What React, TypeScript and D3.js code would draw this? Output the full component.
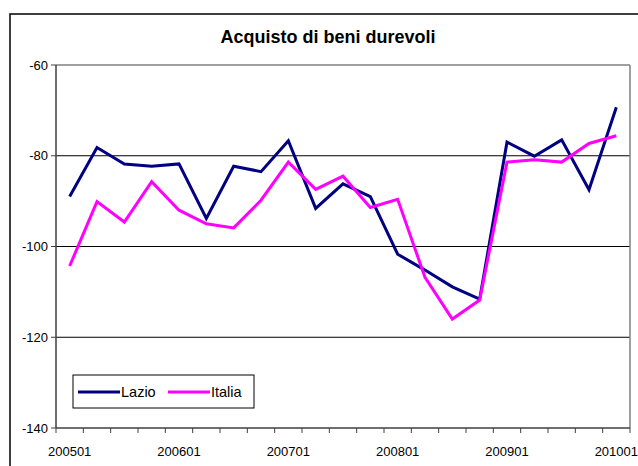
import React from "react";
import * as d3 from "d3";

const categories = [
  "200501","200502","200503","200504",
  "200601","200602","200603","200604",
  "200701","200702","200703","200704",
  "200801","200802","200803","200804",
  "200901","200902","200903","200904",
  "201001",
];
const lazio = [-89.0,-78.2,-81.8,-82.3,-81.8,-93.8,-82.3,-83.5,-76.7,-91.6,-86.2,-89.0,-101.7,-105.2,-108.9,-111.6,-77.0,-80.1,-76.5,-87.5,-69.3];
const italia = [-104.3,-90.1,-94.6,-85.7,-92.0,-95.0,-95.9,-89.8,-81.4,-87.4,-84.5,-91.4,-89.6,-106.8,-116.0,-111.8,-81.4,-80.9,-81.4,-77.3,-75.6];
const yTicks = [-140,-120,-100,-80,-60];
const xLabelEvery = 4;
const seriesNames = ["Lazio", "Italia"];
const seriesColors = ["#000080", "#FF00FF"];

const W = 638, H = 466;
const plot = { left: 56, right: 630, top: 65, bottom: 428 };
const font = "Liberation Sans, Arial, sans-serif";

export default function App() {
  const x = d3.scaleBand<string>().domain(categories).range([plot.left, plot.right]).padding(0);
  const y = d3.scaleLinear().domain([-140, -60]).range([plot.bottom, plot.top]);
  const cx = (c: string) => (x(c) as number) + x.bandwidth() / 2;
  const line = d3.line<number>().x((_, i) => cx(categories[i])).y((d) => y(d));
  const series = [lazio, italia];

  const boundaries = d3.range(categories.length + 1).map((i) => plot.left + i * x.bandwidth());

  return (
    <svg width={W} height={H} style={{ position: "absolute", left: 0, top: 0, background: "#fff" }}>
      <rect x={0} y={0} width={W} height={H} fill="#fff" />
      <rect x={10} y={14} width={W + 20} height={H + 20} fill="none" stroke="#000" strokeWidth={1.5} />
      <text x={328} y={43} textAnchor="middle" fontFamily={font} fontWeight="bold" fontSize={18}>
        Acquisto di beni durevoli
      </text>
      {yTicks.filter((t) => t !== -140 && t !== -60).map((t) => (
        <line key={t} x1={plot.left} x2={plot.right} y1={y(t)} y2={y(t)} stroke="#000" strokeWidth={1} />
      ))}
      <line x1={plot.left} x2={plot.right} y1={plot.top} y2={plot.top} stroke="#808080" strokeWidth={1.5} />
      <line x1={plot.right} x2={plot.right} y1={plot.top} y2={plot.bottom} stroke="#808080" strokeWidth={1.5} />
      <line x1={plot.left} x2={plot.left} y1={plot.top} y2={plot.bottom} stroke="#404040" strokeWidth={1.5} />
      <line x1={plot.left} x2={plot.right} y1={plot.bottom} y2={plot.bottom} stroke="#404040" strokeWidth={1.5} />
      {yTicks.map((t) => (
        <g key={t}>
          <line x1={plot.left - 5} x2={plot.left} y1={y(t)} y2={y(t)} stroke="#404040" strokeWidth={1} />
          <text x={plot.left - 8} y={y(t)} dy="0.35em" textAnchor="end" fontFamily={font} fontSize={13}>
            {t}
          </text>
        </g>
      ))}
      {boundaries.map((bx, i) => (
        <line key={i} x1={bx} x2={bx} y1={plot.bottom} y2={plot.bottom + 5} stroke="#404040" strokeWidth={1} />
      ))}
      {categories.map((c, i) =>
        i % xLabelEvery === 0 ? (
          <text key={c} x={cx(c)} y={456} textAnchor="middle" fontFamily={font} fontSize={13}>
            {c}
          </text>
        ) : null
      )}
      {series.map((s, k) => (
        <path key={k} d={line(s) || ""} fill="none" stroke={seriesColors[k]} strokeWidth={3} strokeLinejoin="miter" />
      ))}
      <rect x={73} y={375} width={181} height={33} fill="#fff" stroke="#000" strokeWidth={1} />
      {seriesNames.map((n, k) => {
        const lx = 78 + k * 90;
        return (
          <g key={n}>
            <line x1={lx} x2={lx + 42} y1={392} y2={392} stroke={seriesColors[k]} strokeWidth={3} />
            <text x={lx + 43} y={392} dy="0.35em" fontFamily={font} fontSize={14.5}>
              {n}
            </text>
          </g>
        );
      })}
    </svg>
  );
}
